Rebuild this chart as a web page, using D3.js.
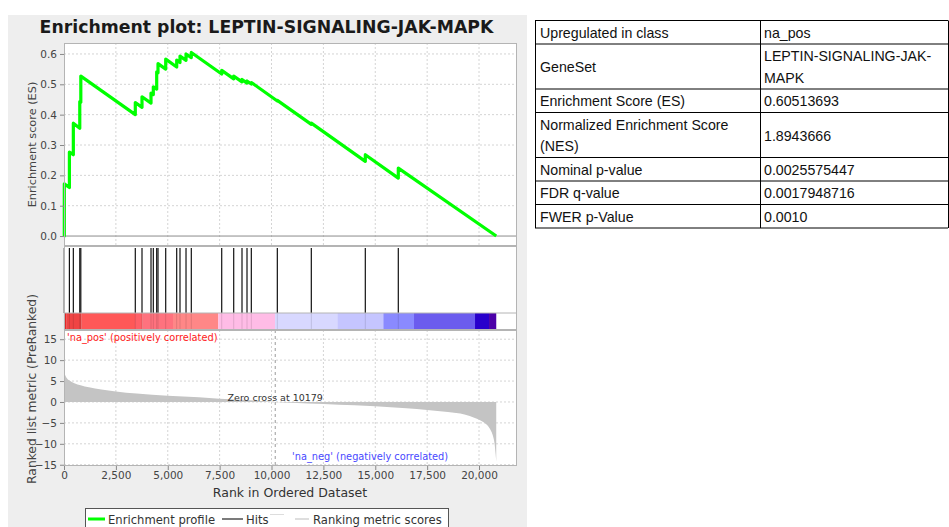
<!DOCTYPE html>
<html>
<head>
<meta charset="utf-8">
<script src="https://cdn.jsdelivr.net/npm/d3@7"></script>
<style>
  html, body { margin: 0; padding: 0; background: #ffffff; }
  svg { display: block; }
</style>
</head>
<body>
<svg id="chart" width="949" height="527"></svg>
<script>
// ---- Data ----------------------------------------------------------------
const geneSetName = "LEPTIN-SIGNALING-JAK-MAPK";
const listSize = 20830;
const zeroCross = 10179;

// Positions of gene-set members in the ranked list
const hitRanks = [15, 260, 450, 760, 810, 3436, 3759, 4193, 4304, 4467, 4530, 4901,
  5431, 5590, 5880, 6135, 7600, 8178, 8578, 8819, 9027, 10280, 11918, 14520, 16110];
// Running enrichment score just before and just after each hit
const esBefore = [0, 0.160, 0.268, 0.355, 0.441, 0.400, 0.424, 0.438, 0.466, 0.484, 0.538,
  0.550, 0.557, 0.572, 0.579, 0.588, 0.534, 0.518, 0.508, 0.504, 0.501, 0.445, 0.368, 0.246, 0.191];
const esAfter = [0.172, 0.277, 0.372, 0.443, 0.527, 0.440, 0.459, 0.471, 0.492, 0.541, 0.568,
  0.583, 0.580, 0.593, 0.600, 0.605, 0.546, 0.527, 0.516, 0.511, 0.506, 0.447, 0.372, 0.268, 0.224];

// Ranked list metric along the list
const metricRanks = [0, 60, 150, 300, 500, 800, 1200, 1800, 2500, 3500, 5000, 6500, 7500, 9000,
  10179, 11000, 12500, 14000, 15000, 16500, 17500, 18500, 19300, 19800, 20200, 20500, 20650,
  20750, 20800, 20830];
const metricValues = [7.2, 6.4, 5.6, 5.0, 4.5, 4.0, 3.5, 3.0, 2.5, 2.0, 1.5, 1.1, 0.8, 0.4,
  0, -0.2, -0.5, -0.8, -1.0, -1.5, -1.9, -2.4, -3.0, -3.8, -4.8, -6.2, -7.8,
  -10, -12.5, -14.2];

// Heat bar bands (rank boundaries and colours)
const bandEdges = [0, 130, 853, 3422, 3793, 5253, 7436, 10169, 13171, 15388, 16867, 19807, 20482, 20830];
const bandColors = ["#e02626", "#ef4444", "#ff5858", "#ff6068", "#ff727e", "#ff8787",
  "#ffbce6", "#d8d8ff", "#c5c5ff", "#8a8aff", "#6b5cee", "#2800cc", "#4c00a8"];

const xTicks = [0, 2500, 5000, 7500, 10000, 12500, 15000, 17500, 20000];
const esTicks = [0.0, 0.1, 0.2, 0.3, 0.4, 0.5, 0.6];
const metricTicks = [15, 10, 5, 0, -5, -10, -15];

const tableLabels = [["Upregulated in class"], ["GeneSet"], ["Enrichment Score (ES)"],
  ["Normalized Enrichment Score", "(NES)"], ["Nominal p-value"], ["FDR q-value"], ["FWER p-Value"]];
const tableValues = [["na_pos"], ["LEPTIN-SIGNALING-JAK-", "MAPK"], ["0.60513693"],
  ["1.8943666"], ["0.0025575447"], ["0.0017948716"], ["0.0010"]];

// ---- Drawing ---------------------------------------------------------------
const svg = d3.select("#chart");
const FONT = "'DejaVu Sans', Verdana, sans-serif";

const L = 64, R = 517;
const topY0 = 43, topY1 = 246;
const hitsY0 = 246, barY0 = 313, barY1 = 330;
const botY0 = 330, botY1 = 466;

const x = d3.scaleLinear().domain([0, 21830]).range([L, R]);
const yEs = d3.scaleLinear().domain([-0.0328, 0.6361]).range([topY1, topY0]);
const yM = d3.scaleLinear().domain([-15.3, 17.2]).range([botY1, botY0]);

// grey panel behind the plot
svg.append("rect").attr("x", 8).attr("y", 15).attr("width", 519).attr("height", 512)
  .attr("fill", "#eeeeee");

// title
svg.append("text").attr("x", 266.5).attr("y", 33).attr("text-anchor", "middle")
  .attr("font-family", FONT).attr("font-weight", "bold").attr("font-size", 17.3)
  .attr("fill", "#1a1a1a").text("Enrichment plot: " + geneSetName);

// ---- top panel: running enrichment score
const esPanel = svg.append("g");
esPanel.append("rect").attr("x", L).attr("y", topY0).attr("width", R - L).attr("height", topY1 - topY0)
  .attr("fill", "#ffffff");
esPanel.append("g").selectAll("line").data(xTicks.slice(1)).join("line")
  .attr("x1", d => x(d)).attr("x2", d => x(d)).attr("y1", topY0).attr("y2", topY1)
  .attr("stroke", "#d4d4d4").attr("stroke-dasharray", "2,2");
esPanel.append("g").selectAll("line").data(esTicks.slice(1)).join("line")
  .attr("x1", L).attr("x2", R).attr("y1", d => yEs(d)).attr("y2", d => yEs(d))
  .attr("stroke", "#d4d4d4").attr("stroke-dasharray", "2,2");
esPanel.append("line").attr("x1", L).attr("x2", R).attr("y1", yEs(0)).attr("y2", yEs(0))
  .attr("stroke", "#8c8c8c").attr("stroke-width", 1);

const esPoints = [[0, 0]];
hitRanks.forEach((r, i) => { esPoints.push([r, esBefore[i]]); esPoints.push([r, esAfter[i]]); });
esPoints.push([listSize, 0]);
esPanel.append("path").datum(esPoints)
  .attr("d", d3.line().x(d => x(d[0])).y(d => yEs(d[1])))
  .attr("fill", "none").attr("stroke", "#00ff00").attr("stroke-width", 3.2)
  .attr("stroke-linejoin", "round");

const yEsAxis = d3.axisLeft(yEs).tickValues(esTicks).tickFormat(d3.format(".1f"))
  .tickSize(4).tickPadding(3);
esPanel.append("g").attr("transform", `translate(${L},0)`).call(yEsAxis)
  .call(g => g.select(".domain").remove())
  .call(g => g.selectAll("line").attr("stroke", "#888"))
  .call(g => g.selectAll("text").attr("font-family", FONT).attr("font-size", 10.5).attr("fill", "#444"));
esPanel.append("rect").attr("x", L + 0.5).attr("y", topY0 + 0.5).attr("width", R - L - 1).attr("height", topY1 - topY0 - 1)
  .attr("fill", "none").attr("stroke", "#b4b4b4");

svg.append("text").attr("transform", `translate(36,${(topY0 + topY1) / 2}) rotate(-90)`)
  .attr("text-anchor", "middle").attr("font-family", FONT).attr("font-size", 11.3)
  .attr("fill", "#444").text("Enrichment score (ES)");

// ---- hits panel with heat bar
const hitPanel = svg.append("g");
hitPanel.append("rect").attr("x", L).attr("y", hitsY0).attr("width", R - L).attr("height", barY1 - hitsY0)
  .attr("fill", "#ffffff");
hitPanel.append("g").selectAll("rect").data(bandColors).join("rect")
  .attr("x", (d, i) => x(bandEdges[i])).attr("width", (d, i) => x(bandEdges[i + 1]) - x(bandEdges[i]))
  .attr("y", barY0).attr("height", barY1 - barY0).attr("fill", d => d);
hitPanel.append("g").selectAll("line").data(hitRanks).join("line")
  .attr("x1", d => x(d)).attr("x2", d => x(d)).attr("y1", barY0).attr("y2", barY1)
  .attr("stroke", "#000").attr("stroke-opacity", 0.12);
hitPanel.append("g").selectAll("line").data(hitRanks).join("line")
  .attr("x1", d => x(d)).attr("x2", d => x(d)).attr("y1", hitsY0 + 2).attr("y2", barY0)
  .attr("stroke", "#111").attr("stroke-width", 1.2);
hitPanel.append("line").attr("x1", L).attr("x2", R).attr("y1", barY0).attr("y2", barY0).attr("stroke", "#b4b4b4");
hitPanel.append("rect").attr("x", L + 0.5).attr("y", hitsY0 + 0.5).attr("width", R - L - 1).attr("height", barY1 - hitsY0 - 1)
  .attr("fill", "none").attr("stroke", "#b4b4b4");

// ---- bottom panel: ranked list metric
const metricPanel = svg.append("g");
metricPanel.append("rect").attr("x", L).attr("y", botY0).attr("width", R - L).attr("height", botY1 - botY0)
  .attr("fill", "#ffffff");
metricPanel.append("g").selectAll("line").data(xTicks.slice(1)).join("line")
  .attr("x1", d => x(d)).attr("x2", d => x(d)).attr("y1", botY0).attr("y2", botY1)
  .attr("stroke", "#d4d4d4").attr("stroke-dasharray", "2,2");
metricPanel.append("g").selectAll("line").data(metricTicks).join("line")
  .attr("x1", L).attr("x2", R).attr("y1", d => yM(d)).attr("y2", d => yM(d))
  .attr("stroke", "#d4d4d4").attr("stroke-dasharray", "2,2");

const metricData = metricRanks.map((r, i) => [r, metricValues[i]]);
metricPanel.append("path").datum(metricData)
  .attr("d", d3.area().curve(d3.curveMonotoneX).x(d => x(d[0])).y0(yM(0)).y1(d => yM(d[1])))
  .attr("fill", "#c4c4c4").attr("stroke", "none");

metricPanel.append("line").attr("x1", x(zeroCross)).attr("x2", x(zeroCross)).attr("y1", botY0).attr("y2", botY1)
  .attr("stroke", "#9a9a9a").attr("stroke-dasharray", "3,3");
metricPanel.append("text").attr("x", x(zeroCross)).attr("y", 401).attr("text-anchor", "middle")
  .attr("font-family", FONT).attr("font-size", 9.5).attr("fill", "#333")
  .text("Zero cross at " + zeroCross);
metricPanel.append("text").attr("x", 67).attr("y", 341).attr("font-family", FONT).attr("font-size", 9.8)
  .attr("fill", "#ff2020").text("'na_pos' (positively correlated)");
metricPanel.append("text").attr("x", 292).attr("y", 460).attr("font-family", FONT).attr("font-size", 9.8)
  .attr("fill", "#4848ff").text("'na_neg' (negatively correlated)");

const yMAxis = d3.axisLeft(yM).tickValues(metricTicks).tickFormat(d3.format("d"))
  .tickSize(4).tickPadding(3);
metricPanel.append("g").attr("transform", `translate(${L},0)`).call(yMAxis)
  .call(g => g.select(".domain").remove())
  .call(g => g.selectAll("line").attr("stroke", "#888"))
  .call(g => g.selectAll("text").attr("font-family", FONT).attr("font-size", 10.5).attr("fill", "#444"));
const xAxis = d3.axisBottom(x).tickValues(xTicks).tickFormat(d3.format(","))
  .tickSize(4).tickPadding(2);
metricPanel.append("g").attr("transform", `translate(0,${botY1})`).call(xAxis)
  .call(g => g.select(".domain").remove())
  .call(g => g.selectAll("line").attr("stroke", "#888"))
  .call(g => g.selectAll("text").attr("font-family", FONT).attr("font-size", 10.5).attr("fill", "#444"));
metricPanel.append("rect").attr("x", L + 0.5).attr("y", botY0 + 0.5).attr("width", R - L - 1).attr("height", botY1 - botY0 - 1)
  .attr("fill", "none").attr("stroke", "#b4b4b4");

svg.append("text").attr("transform", `translate(36,389) rotate(-90)`)
  .attr("text-anchor", "middle").attr("font-family", FONT).attr("font-size", 12.3)
  .attr("fill", "#444").text("Ranked list metric (PreRanked)");
svg.append("text").attr("x", 290).attr("y", 497).attr("text-anchor", "middle")
  .attr("font-family", FONT).attr("font-size", 12.5).attr("fill", "#333")
  .text("Rank in Ordered Dataset");

// ---- legend
const lg = svg.append("g");
lg.append("rect").attr("x", 85.5).attr("y", 508.5).attr("width", 363).attr("height", 26)
  .attr("fill", "#ffffff").attr("stroke", "#555");
lg.append("line").attr("x1", 88).attr("x2", 105).attr("y1", 519).attr("y2", 519)
  .attr("stroke", "#00ff00").attr("stroke-width", 3);
lg.append("text").attr("x", 108).attr("y", 523.5).attr("font-family", FONT).attr("font-size", 11.6)
  .attr("fill", "#333").text("Enrichment profile");
lg.append("line").attr("x1", 222).attr("x2", 243).attr("y1", 519).attr("y2", 519)
  .attr("stroke", "#333").attr("stroke-width", 1.3);
lg.append("text").attr("x", 246).attr("y", 523.5).attr("font-family", FONT).attr("font-size", 11.6)
  .attr("fill", "#333").text("Hits");
lg.append("line").attr("x1", 270).attr("x2", 284).attr("y1", 514.5).attr("y2", 514.5)
  .attr("stroke", "#dddddd").attr("stroke-width", 1);
lg.append("line").attr("x1", 295).attr("x2", 309).attr("y1", 519).attr("y2", 519)
  .attr("stroke", "#cccccc").attr("stroke-width", 1.3);
lg.append("text").attr("x", 313).attr("y", 523.5).attr("font-family", FONT).attr("font-size", 11.6)
  .attr("fill", "#333").text("Ranking metric scores");

// ---- statistics table
const TFONT = "'Liberation Sans', Arial, sans-serif";
const tbl = svg.append("g");
const colX = [535, 760, 948];
const rowLines = [1, 2, 1, 2, 1, 1, 1];
let yCur = 20.5;
const rowTops = [];
rowLines.forEach(n => { rowTops.push(yCur); yCur += n === 1 ? 23.5 : 45; });
rowTops.push(yCur);

tableLabels.forEach((lab, i) => {
  const y0 = rowTops[i], y1 = rowTops[i + 1], cy = (y0 + y1) / 2;
  const put = (lines, tx) => {
    const lh = 21.5;
    lines.forEach((t, k) => {
      tbl.append("text").attr("x", tx)
        .attr("y", cy + (k - (lines.length - 1) / 2) * lh + 5.5)
        .attr("font-family", TFONT).attr("font-size", 14.2).attr("fill", "#111").text(t);
    });
  };
  put(lab, colX[0] + 5);
  put(tableValues[i], colX[1] + 4);
});
tbl.append("g").selectAll("line").data(rowTops).join("line")
  .attr("x1", colX[0]).attr("x2", colX[2]).attr("y1", d => d).attr("y2", d => d)
  .attr("stroke", "#000").attr("stroke-width", 1);
tbl.append("g").selectAll("line").data(colX).join("line")
  .attr("x1", d => d + 0.5).attr("x2", d => d + 0.5).attr("y1", rowTops[0]).attr("y2", rowTops[rowTops.length - 1])
  .attr("stroke", "#000").attr("stroke-width", 1);
</script>
</body>
</html>
